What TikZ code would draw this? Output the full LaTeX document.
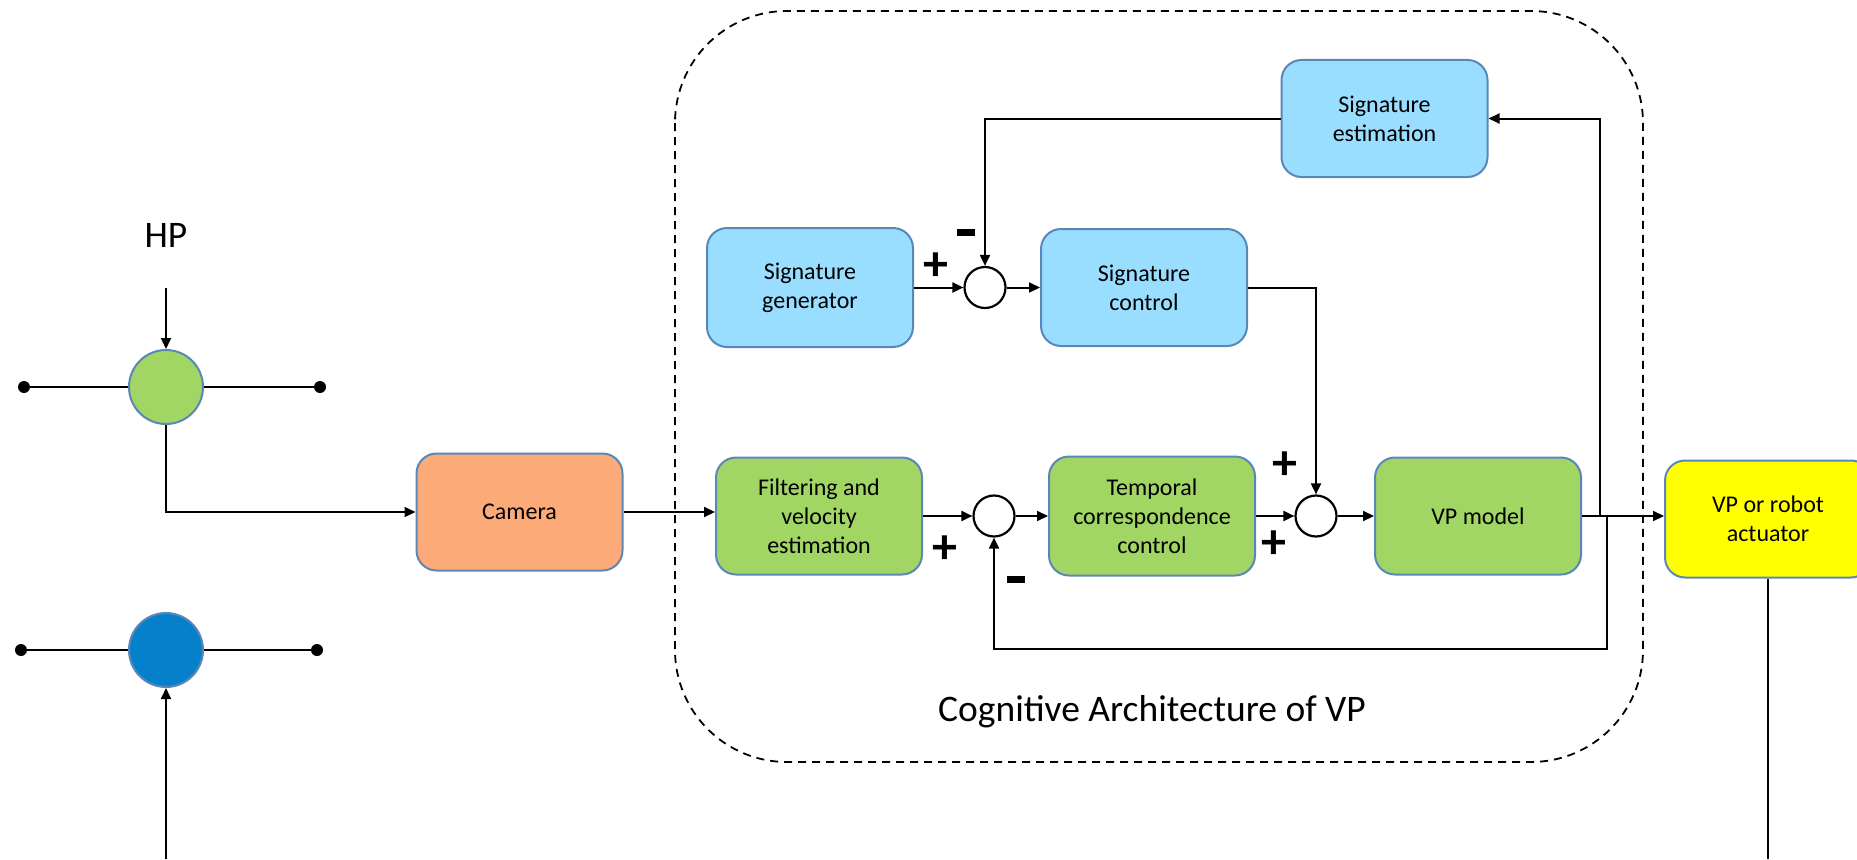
\documentclass[tikz,border=0pt]{standalone}
\usepackage{fontspec}
\setmainfont{Carlito}
\usetikzlibrary{arrows.meta}

\definecolor{edge}{HTML}{5B87B8}
\definecolor{boxgreen}{HTML}{A1D564}
\definecolor{boxblue}{HTML}{99DDFF}
\definecolor{boxorange}{HTML}{FCAA78}
\definecolor{boxyellow}{HTML}{FFFF00}
\definecolor{jointblue}{HTML}{0581CC}

\tikzset{
  block/.style={draw=edge, line width=2pt, rounded corners=20pt,
    minimum width=206pt, minimum height=117pt, align=center,
    font=\fontsize{24}{29}\selectfont, inner sep=0pt},
  joint/.style={circle, draw=edge, line width=2pt, minimum size=74pt, inner sep=0pt},
  sumpt/.style={circle, draw=black, line width=2.2pt, minimum size=41pt, inner sep=0pt, fill=white},
  endpt/.style={circle, fill=black, minimum size=12pt, inner sep=0pt},
  conn/.style={line width=2pt},
  arr/.style={conn, -{Triangle[length=11pt,width=10pt]}},
  sign/.style={font=\bfseries\fontsize{50}{50}\selectfont, inner sep=0pt},
  minus/.style={inner sep=0pt, fill=black, minimum width=18pt, minimum height=7pt},
  bigtext/.style={font=\fontsize{37.5}{42}\selectfont, inner sep=0pt},
}

\begin{document}
\begin{tikzpicture}[x=1pt, y=1pt]
\useasboundingbox (0,0) rectangle (1857,-859);
\clip (0,0) rectangle (1857,-859);

% enclosing frame of the cognitive architecture
\draw[line width=1.8pt, dash pattern=on 8pt off 6pt, rounded corners=112pt]
  (675,-11) rectangle (1643,-762);
\node[bigtext] (cogtitle) at (1152,-712) {Cognitive Architecture of VP};

% human player joint and its links
\node[bigtext] (hplabel) at (166,-235) {HP};
\coordinate (hpin) at (166,-288);
\node[joint, fill=boxgreen] (hp) at (166,-387) {};
\node[endpt] (hpl) at (24,-387) {};
\node[endpt] (hpr) at (320,-387) {};
\draw[conn] (hpl) -- (hp.west);
\draw[conn] (hp.east) -- (hpr);
\draw[arr] (hpin) -- (hp.north);

% virtual player joint and its links
\node[joint, fill=jointblue] (vp) at (166,-650) {};
\node[endpt] (vpl) at (21,-650) {};
\node[endpt] (vpr) at (317,-650) {};
\coordinate (vpin) at (166,-859);
\draw[conn] (vpl) -- (vp.west);
\draw[conn] (vp.east) -- (vpr);
\draw[arr] (vpin) -- (vp.south);

% blocks
\node[block, fill=boxorange] (camera) at (519.5,-512) {Camera};
\node[block, fill=boxgreen] (filter) at (819,-516) {Filtering and\\velocity\\estimation};
\node[block, fill=boxblue, minimum height=119pt] (siggen) at (810,-287.5) {Signature\\generator};
\node[block, fill=boxblue] (sigctrl) at (1144,-287.5) {Signature\\control};
\node[block, fill=boxblue] (sigest) at (1384.5,-118.5) {Signature\\estimation};
\node[block, fill=boxgreen, minimum height=119pt] (temporal) at (1152,-516) {Temporal\\correspondence\\control};
\node[block, fill=boxgreen] (vpmodel) at (1478,-516) {VP model};
\node[block, fill=boxyellow] (actuator) at (1768,-519) {VP or robot\\actuator};

% summing junctions
\node[sumpt] (sum1) at (985,-287.5) {};
\node[sumpt] (sum2) at (994,-516) {};
\node[sumpt] (sum3) at (1316,-516) {};

% signs at the junctions
\node[sign] (s1p) at (936,-267) {+};
\node[minus] (s1m) at (966,-232) {};
\node[sign] (s2p) at (945,-550) {+};
\node[minus] (s2m) at (1016,-579) {};
\node[sign] (s3a) at (1285,-466) {+};
\node[sign] (s3b) at (1274,-545) {+};

% signal flow
\draw[arr] (hp.south) |- (camera.west);
\draw[arr] (camera.east) -- (filter.west |- camera.east);
\draw[arr] (siggen.east) -- (sum1.west);
\draw[arr] (sum1.east) -- (sigctrl.west);
\draw[arr] (sigest.west) -| (sum1.north);
\draw[arr] (sigctrl.east) -| (sum3.north);
\draw[arr] (filter.east) -- (sum2.west);
\draw[arr] (sum2.east) -- (temporal.west);
\draw[arr] (temporal.east) -- (sum3.west);
\draw[arr] (sum3.east) -- (vpmodel.west);
\draw[arr] (vpmodel.east) -- (actuator.west |- vpmodel.east);

% feedback branches taken from the VP model output
\coordinate (tapup) at (1600,-516);
\coordinate (tapfb) at (1607,-516);
\coordinate (fbcorner) at (1607,-649);
\draw[arr] (tapup) |- (sigest.east);
\draw[arr] (tapfb) -- (fbcorner) -| (sum2.south);

% actuator output
\coordinate (actout) at (1768,-859);
\draw[conn] (actuator.south) -- (actout);
\end{tikzpicture}
\end{document}
